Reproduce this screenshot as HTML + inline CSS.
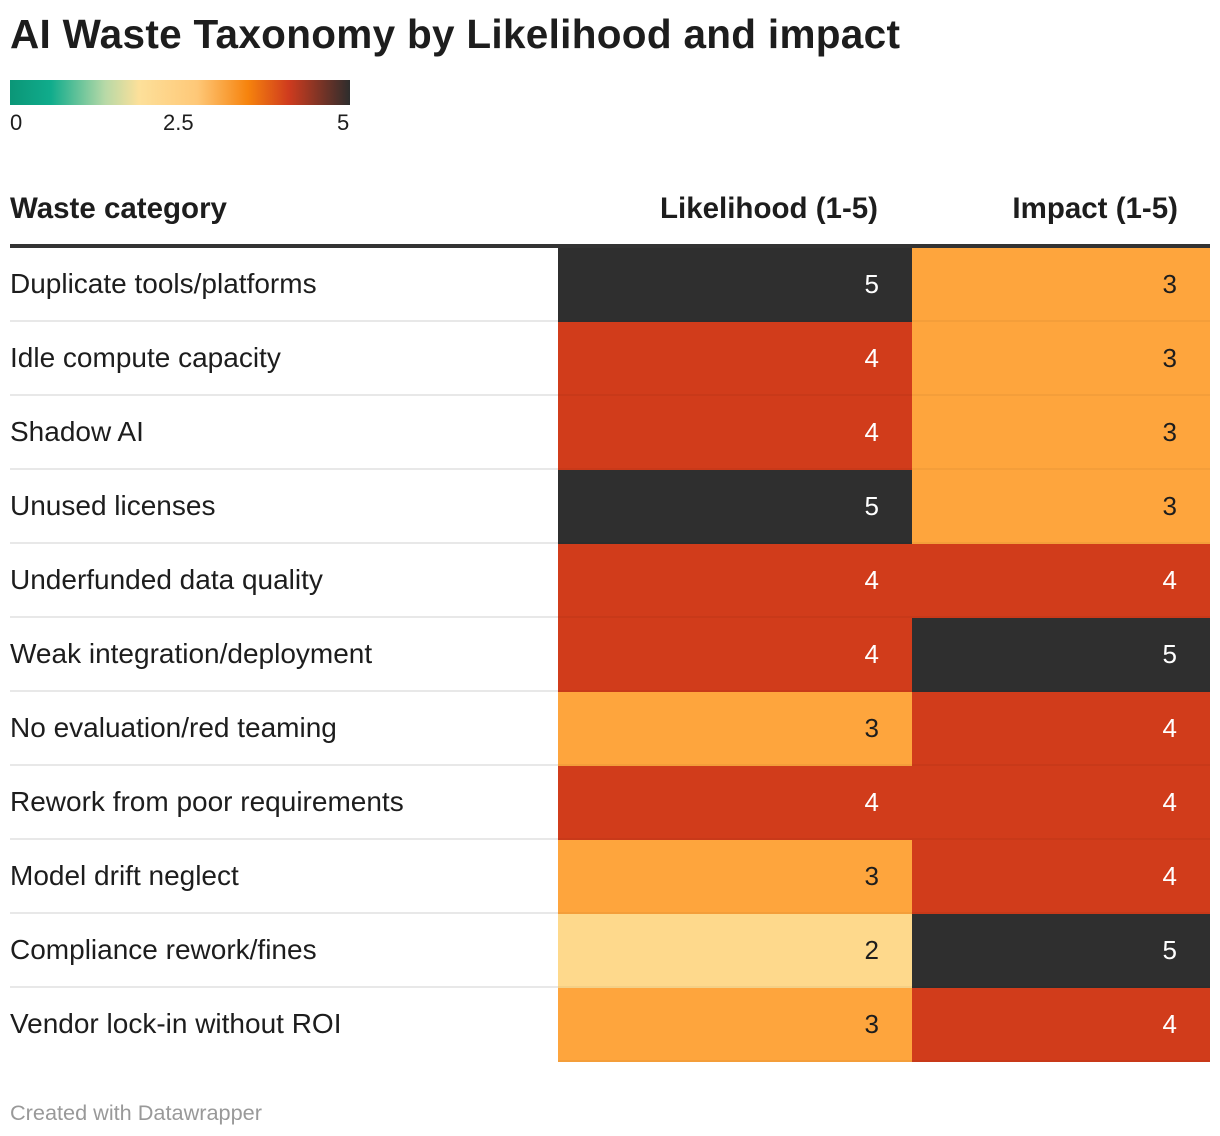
<!DOCTYPE html>
<html><head><meta charset="utf-8"><style>
body{margin:0;background:#fff;font-family:"Liberation Sans",Arial,sans-serif;color:#1d1d1d;width:1220px;height:1136px;position:relative;overflow:hidden}
.a{position:absolute;white-space:nowrap}
</style></head><body>
<div class="a" style="left:10px;top:11px;font-size:40.5px;font-weight:bold;letter-spacing:0.3px">AI Waste Taxonomy by Likelihood and impact</div>
<div class="a" style="left:10px;top:80px;width:340px;height:25px;background:linear-gradient(90deg,#0b9677 0%,#10ac8c 12%,#b7d9a7 28%,#fde09a 38%,#fec878 55%,#f6830d 70%,#cf3b1e 82%,#2d2d2d 100%)"></div>
<div class="a" style="left:10px;top:110px;font-size:22px">0</div>
<div class="a" style="left:163px;top:110px;font-size:22px">2.5</div>
<div class="a" style="left:337px;top:110px;font-size:22px">5</div>
<div class="a" style="left:10px;top:192px;font-size:29.5px;font-weight:bold">Waste category</div>
<div class="a" style="right:342px;top:192px;font-size:29.5px;font-weight:bold">Likelihood (1-5)</div>
<div class="a" style="right:42px;top:192px;font-size:29.5px;font-weight:bold">Impact (1-5)</div>
<div class="a" style="left:10px;top:244px;width:1200px;height:4px;background:#333"></div>
<div id="rows"></div>
<div class="a" style="left:10px;top:1100px;font-size:21.7px;color:#999">Created with Datawrapper</div>
<script>
const categories=["Duplicate tools/platforms","Idle compute capacity","Shadow AI","Unused licenses","Underfunded data quality","Weak integration/deployment","No evaluation/red teaming","Rework from poor requirements","Model drift neglect","Compliance rework/fines","Vendor lock-in without ROI"];
const likelihood=[5,4,4,5,4,4,3,4,3,2,3];
const impact=[3,3,3,3,4,5,4,4,4,5,4];
const colorFor=v=>({1:"#b7d9a7",2:"#fed98c",3:"#fea53d",4:"#d13c1b",5:"#2f2f2f"})[v];
const textFor=v=>v>=4?"#fff":"#1d1d1d";
const root=document.getElementById('rows');
const top0=248,rh=74;
categories.forEach((c,i)=>{
  const y=top0+i*rh;
  const lab=document.createElement('div');
  lab.className='a';
  
  
  lab.style.cssText=`left:10px;top:${y+20}px;font-size:28px;`;
  lab.textContent=c;root.appendChild(lab);
  if(i<categories.length-1){
    const sep=document.createElement('div');
    sep.className='a';
    
    
    sep.style.cssText=`left:10px;top:${y+rh-2}px;width:1200px;height:2px;background:#e8e8e8`;
    root.appendChild(sep);
  }
  [[likelihood[i],558,354,'likelihood-cell'],[impact[i],912,298,'impact-cell']].forEach(([v,x,w,n])=>{
    const d=document.createElement('div');
    d.className='a';
    
    
    d.style.cssText=`left:${x}px;top:${y}px;width:${w}px;height:${rh}px;background:${colorFor(v)};color:${textFor(v)};font-size:26px;text-align:right;box-sizing:border-box;padding-right:33px;line-height:${rh-2}px;border-bottom:2px solid rgba(0,0,0,0.04)`;
    d.textContent=v;root.appendChild(d);
  });
});
</script>
</body></html>
